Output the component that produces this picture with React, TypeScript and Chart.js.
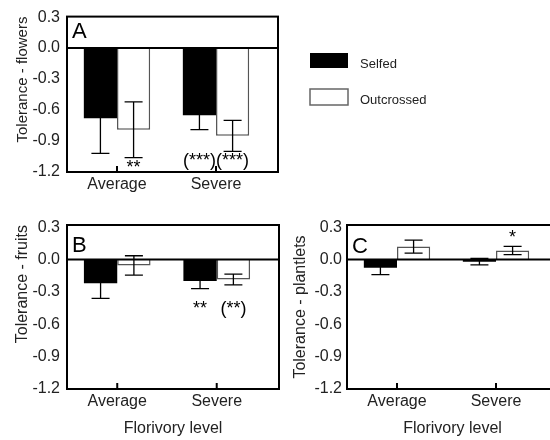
import React, { useEffect, useRef } from "react";
import { Chart, registerables } from "chart.js";

Chart.register(...registerables);

const FONT = "'Liberation Sans', Arial, Helvetica, sans-serif";
Chart.defaults.font.family = FONT;

// ---------- data ----------
const categories = ["Average", "Severe"];
const seriesNames = ["Selfed", "Outcrossed"];
const yTicks = [0.3, 0.0, -0.3, -0.6, -0.9, -1.2];

const flowersSelfed = [-0.68, -0.65];
const flowersSelfedErr = [0.34, 0.14];
const flowersOutcrossed = [-0.79, -0.85];
const flowersOutcrossedErr = [0.27, 0.15];

const fruitsSelfed = [-0.22, -0.2];
const fruitsSelfedErr = [0.14, 0.07];
const fruitsOutcrossed = [-0.055, -0.185];
const fruitsOutcrossedErr = [0.09, 0.05];

const plantletsSelfed = [-0.077, -0.02];
const plantletsSelfedErr = [0.063, 0.03];
const plantletsOutcrossed = [0.12, 0.083];
const plantletsOutcrossedErr = [0.06, 0.038];

// significance marks: series index, category index, text, value where the text sits
const flowersSig = [
  { series: 1, cat: 0, text: "**", at: -1.162 },
  { series: 0, cat: 1, text: "(***)", at: -1.09 },
  { series: 1, cat: 1, text: "(***)", at: -1.09 },
];
const fruitsSig = [
  { series: 0, cat: 1, text: "**", at: -0.46 },
  { series: 1, cat: 1, text: "(**)", at: -0.46 },
];
const plantletsSig = [{ series: 1, cat: 1, text: "*", at: 0.2 }];

// ---------- plugin ----------
const decorPlugin = {
  id: "panelDecor",
  afterDraw(chart: any, _args: any, opts: any) {
    const { ctx, chartArea: a } = chart;
    const x = chart.scales.x;
    const y = chart.scales.y;
    ctx.save();

    // error bars
    chart.data.datasets.forEach((ds: any, di: number) => {
      const meta = chart.getDatasetMeta(di);
      meta.data.forEach((bar: any, i: number) => {
        const v = ds.data[i].y;
        const e = ds.errors[i];
        const yt = y.getPixelForValue(v + e);
        const yb = y.getPixelForValue(v - e);
        ctx.strokeStyle = "#000";
        ctx.lineWidth = 1.3;
        ctx.beginPath();
        ctx.moveTo(bar.x, yt);
        ctx.lineTo(bar.x, yb);
        ctx.moveTo(bar.x - 9, yt);
        ctx.lineTo(bar.x + 9, yt);
        ctx.moveTo(bar.x - 9, yb);
        ctx.lineTo(bar.x + 9, yb);
        ctx.stroke();
      });
    });

    // zero line
    const y0 = y.getPixelForValue(0);
    ctx.strokeStyle = "#000";
    ctx.lineWidth = 2;
    ctx.beginPath();
    ctx.moveTo(a.left, y0);
    ctx.lineTo(a.right, y0);
    ctx.stroke();

    // frame
    ctx.strokeRect(a.left, a.top, a.right - a.left, a.bottom - a.top);

    // inward tick marks on the category axis
    x.ticks.forEach((t: any) => {
      const px = x.getPixelForValue(t.value);
      ctx.beginPath();
      ctx.moveTo(px, a.bottom);
      ctx.lineTo(px, a.bottom - 6);
      ctx.stroke();
    });

    // panel letter
    ctx.fillStyle = "#000";
    ctx.font = `22px ${FONT}`;
    ctx.textAlign = "left";
    ctx.textBaseline = "alphabetic";
    ctx.fillText(opts.letter, a.left + 5, a.top + opts.letterDy);

    // significance labels
    ctx.font = `18px ${FONT}`;
    ctx.textAlign = "center";
    ctx.textBaseline = "middle";
    (opts.sig || []).forEach((s: any) => {
      const bar = chart.getDatasetMeta(s.series).data[s.cat];
      ctx.fillText(s.text, bar.x, y.getPixelForValue(s.at));
    });

    // legend
    if (opts.legend) {
      ctx.font = `13px ${FONT}`;
      ctx.textAlign = "left";
      ctx.textBaseline = "middle";
      chart.data.datasets.forEach((ds: any, di: number) => {
        const top = di === 0 ? 53 : 89;
        const h = di === 0 ? 15 : 16;
        ctx.fillStyle = ds.backgroundColor;
        ctx.fillRect(310, top, 38, h);
        if (di > 0) {
          ctx.strokeStyle = "#666";
          ctx.lineWidth = 1.5;
          ctx.strokeRect(310, top, 38, h);
        }
        ctx.fillStyle = "#222";
        ctx.fillText(ds.label, 360, top + h / 2 + 3.5);
      });
    }
    ctx.restore();
  },
};

type PanelProps = {
  left: number;
  top: number;
  width: number;
  height: number;
  padTop: number;
  padRight: number;
  yAxisW: number;
  xAxisH: number;
  yMax: number;
  yTitle: string;
  yTitleSize: number;
  yTitleAlign: string;
  yTitlePad: number;
  yTickPad: number;
  xTitle: string;
  selfed: number[];
  selfedErr: number[];
  outcrossed: number[];
  outcrossedErr: number[];
  letter: string;
  letterDy: number;
  sig: any[];
  legend: boolean;
};

function Panel(p: PanelProps) {
  const ref = useRef<HTMLCanvasElement>(null);
  useEffect(() => {
    const chart = new Chart(ref.current as HTMLCanvasElement, {
      type: "bar",
      data: {
        datasets: [
          {
            label: seriesNames[0],
            data: categories.map((_, i) => ({ x: i, y: p.selfed[i] })),
            errors: p.selfedErr,
            backgroundColor: "#000",
            borderColor: "#000",
            borderWidth: 0,
            categoryPercentage: 0.67,
            barPercentage: 1,
          } as any,
          {
            label: seriesNames[1],
            data: categories.map((_, i) => ({ x: i, y: p.outcrossed[i] })),
            errors: p.outcrossedErr,
            backgroundColor: "#fff",
            borderColor: "#555",
            borderWidth: 1.5,
            categoryPercentage: 0.67,
            barPercentage: 1,
          } as any,
        ],
      },
      options: {
        responsive: false,
        animation: false,
        devicePixelRatio: 1,
        layout: { padding: { left: 0, top: p.padTop, right: p.padRight, bottom: 0 } },
        plugins: {
          legend: { display: false },
          tooltip: { enabled: false },
          panelDecor: { letter: p.letter, letterDy: p.letterDy, sig: p.sig, legend: p.legend },
        } as any,
        scales: {
          x: {
            type: "linear",
            min: -0.505,
            max: 1.626,
            offset: false,
            grid: { display: false, offset: false, drawTicks: false },
            border: { display: false },
            afterBuildTicks: (s: any) => {
              s.ticks = categories.map((_, i) => ({ value: i }));
            },
            ticks: {
              callback: (_v: any, i: number) => categories[i],
              font: { size: 16 },
              color: "#222",
              padding: 3,
              autoSkip: false,
              maxRotation: 0,
            },
            title: {
              display: !!p.xTitle,
              text: p.xTitle,
              font: { size: 16 },
              color: "#222",
              padding: { top: 0, bottom: 2 },
            },
            afterFit: (s: any) => {
              s.height = p.xAxisH;
            },
          } as any,
          y: {
            type: "linear",
            min: -1.2,
            max: p.yMax,
            grid: { display: false, drawTicks: false },
            border: { display: false },
            afterBuildTicks: (s: any) => {
              s.ticks = yTicks.map((v) => ({ value: v }));
            },
            ticks: {
              callback: (v: any) => Number(v).toFixed(1),
              font: { size: 16 },
              color: "#222",
              padding: p.yTickPad,
            },
            title: {
              display: true,
              text: p.yTitle,
              align: p.yTitleAlign,
              font: { size: p.yTitleSize },
              color: "#222",
              padding: { top: p.yTitlePad, bottom: 0 },
            },
            afterFit: (s: any) => {
              s.width = p.yAxisW;
            },
          } as any,
        },
      },
      plugins: [decorPlugin as any],
    });
    return () => chart.destroy();
  }, []);
  return (
    <canvas
      ref={ref}
      width={p.width}
      height={p.height}
      style={{ position: "absolute", left: p.left, top: p.top, width: p.width, height: p.height }}
    />
  );
}

export default function App() {
  return (
    <div
      style={{
        position: "absolute",
        left: 0,
        top: 0,
        width: 550,
        height: 440,
        overflow: "hidden",
        background: "#fff",
      }}
    >
      <Panel
        left={0}
        top={0}
        width={550}
        height={200}
        padTop={12}
        padRight={272}
        yAxisW={67}
        xAxisH={28}
        yMax={0.305}
        yTitle="Tolerance - flowers"
        yTitleSize={15}
        yTitleAlign="end"
        yTitlePad={14}
        yTickPad={7}
        xTitle=""
        selfed={flowersSelfed}
        selfedErr={flowersSelfedErr}
        outcrossed={flowersOutcrossed}
        outcrossedErr={flowersOutcrossedErr}
        letter="A"
        letterDy={21}
        sig={flowersSig}
        legend={true}
      />
      <Panel
        left={0}
        top={200}
        width={280}
        height={240}
        padTop={25}
        padRight={1}
        yAxisW={67}
        xAxisH={51}
        yMax={0.32}
        yTitle="Tolerance - fruits"
        yTitleSize={16}
        yTitleAlign="end"
        yTitlePad={13}
        yTickPad={7}
        xTitle="Florivory level"
        selfed={fruitsSelfed}
        selfedErr={fruitsSelfedErr}
        outcrossed={fruitsOutcrossed}
        outcrossedErr={fruitsOutcrossedErr}
        letter="B"
        letterDy={27}
        sig={fruitsSig}
        legend={false}
      />
      <Panel
        left={270}
        top={200}
        width={290}
        height={240}
        padTop={25}
        padRight={2}
        yAxisW={77}
        xAxisH={51}
        yMax={0.32}
        yTitle="Tolerance - plantlets"
        yTitleSize={16}
        yTitleAlign="center"
        yTitlePad={21}
        yTickPad={5}
        xTitle="Florivory level"
        selfed={plantletsSelfed}
        selfedErr={plantletsSelfedErr}
        outcrossed={plantletsOutcrossed}
        outcrossedErr={plantletsOutcrossedErr}
        letter="C"
        letterDy={28}
        sig={plantletsSig}
        legend={false}
      />
    </div>
  );
}
